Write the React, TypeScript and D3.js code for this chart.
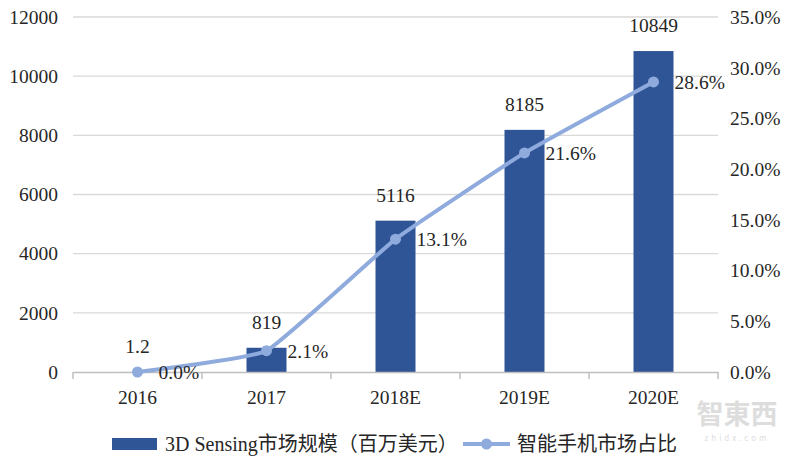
import * as d3 from "d3";
import { useEffect, useRef } from "react";

const categories = ["2016", "2017", "2018E", "2019E", "2020E"];
const marketSize = [1.2, 819, 5116, 8185, 10849];
const marketLabels = ["1.2", "819", "5116", "8185", "10849"];
const shareValues = [0.0, 2.1, 13.1, 21.6, 28.6];
const leftTicks = [0, 2000, 4000, 6000, 8000, 10000, 12000];
const rightTicks = [0, 5, 10, 15, 20, 25, 30, 35];
const barName = "3D Sensing市场规模（百万美元）";
const lineName = "智能手机市场占比";

const width = 800,
  height = 456,
  margin = { left: 73, top: 17, right: 82, bottom: 84 };

const barColor = "#2F5597";
const lineColor = "#8FAADC";
const font = "'Liberation Serif', 'Times New Roman', 'Noto Sans CJK SC', serif";

export default function App() {
  const bottomAxis = useRef<SVGGElement>(null);

  const innerW = width - margin.left - margin.right;
  const innerH = height - margin.top - margin.bottom;

  const xScale = d3.scaleBand().domain(categories).range([0, innerW]);
  const yLeft = d3.scaleLinear().domain([0, 12000]).range([innerH, 0]);
  const yRight = d3.scaleLinear().domain([0, 35]).range([innerH, 0]);
  const barW = xScale.bandwidth() * 0.31;
  const cx = (c: string) => (xScale(c) as number) + xScale.bandwidth() / 2;

  const line = d3
    .line<number>()
    .x((_, i) => cx(categories[i]))
    .y((d) => yRight(d))
    .curve(d3.curveCardinal.tension(0.65));

  useEffect(() => {
    const g = d3.select(bottomAxis.current);
    g.selectAll("*").remove();
    const axis = d3.axisBottom(xScale).tickSize(0).tickFormat(() => "");
    g.call(axis);
    g.select(".domain").attr("stroke", "#bfbfbf").attr("stroke-width", 1.5);
    // boundary ticks between categories
    const bounds = d3.range(categories.length + 1).map((i) => i * xScale.step());
    g.selectAll("line.b")
      .data(bounds)
      .join("line")
      .attr("class", "b")
      .attr("x1", (d) => d)
      .attr("x2", (d) => d)
      .attr("y1", 0)
      .attr("y2", 7)
      .attr("stroke", "#bfbfbf")
      .attr("stroke-width", 1.5);
  }, []);

  return (
    <svg
      width={width}
      height={height}
      style={{ position: "absolute", left: 0, top: 0, background: "#fff", fontFamily: font }}
    >
      <g transform={`translate(${margin.left}, ${margin.top})`}>
        {leftTicks.slice(1).map((t) => (
          <line key={t} x1={0} x2={innerW} y1={yLeft(t)} y2={yLeft(t)} stroke="#d9d9d9" strokeWidth={1.3} />
        ))}
        {leftTicks.map((t) => (
          <text key={t} x={-15} y={yLeft(t)} dy="0.35em" textAnchor="end" fontSize={19.5} fill="#262626">
            {t}
          </text>
        ))}
        {rightTicks.map((t) => (
          <text key={t} x={innerW + 12} y={yRight(t)} dy="0.35em" fontSize={19.5} fill="#262626">
            {t.toFixed(1)}%
          </text>
        ))}
        {categories.map((c, i) => (
          <rect
            key={c}
            x={cx(c) - barW / 2}
            y={yLeft(marketSize[i])}
            width={barW}
            height={innerH - yLeft(marketSize[i])}
            fill={barColor}
          />
        ))}
        <g ref={bottomAxis} transform={`translate(0, ${innerH})`} />
        {categories.map((c) => (
          <text key={c} x={cx(c)} y={innerH + 32} textAnchor="middle" fontSize={19.5} fill="#262626">
            {c}
          </text>
        ))}
        {categories.map((c, i) => (
          <text key={c} x={cx(c)} y={yLeft(marketSize[i]) - 19} textAnchor="middle" fontSize={19.5} fill="#262626">
            {marketLabels[i]}
          </text>
        ))}
        <path d={line(shareValues) || ""} fill="none" stroke={lineColor} strokeWidth={4} />
        {categories.map((c, i) => (
          <circle key={c} cx={cx(c)} cy={yRight(shareValues[i])} r={5.5} fill={lineColor} />
        ))}
        {categories.map((c, i) => (
          <text key={c} x={cx(c) + 21} y={yRight(shareValues[i])} dy="0.35em" fontSize={19.5} fill="#262626">
            {shareValues[i].toFixed(1)}%
          </text>
        ))}
      </g>

      <g transform="translate(0, 444)">
        <rect x={112} y={-6} width={45} height={12} fill={barColor} />
        <text x={165} y={0} dy="0.35em" fontSize={20} fill="#262626">
          {barName}
        </text>
        <line x1={463} x2={510} y1={0} y2={0} stroke={lineColor} strokeWidth={4} />
        <circle cx={486.5} cy={0} r={5.5} fill={lineColor} />
        <text x={517} y={0} dy="0.35em" fontSize={20} fill="#262626">
          {lineName}
        </text>
      </g>

      <g fill="#d0d0d0" fontFamily="'Noto Sans CJK SC', sans-serif" opacity={0.7}>
        <text x={737} y={424} textAnchor="middle" fontSize={27} fontWeight="bold">
          智東西
        </text>
        <text x={737} y={441} textAnchor="middle" fontSize={8} letterSpacing={3}>
          zhidx.com
        </text>
      </g>
    </svg>
  );
}
